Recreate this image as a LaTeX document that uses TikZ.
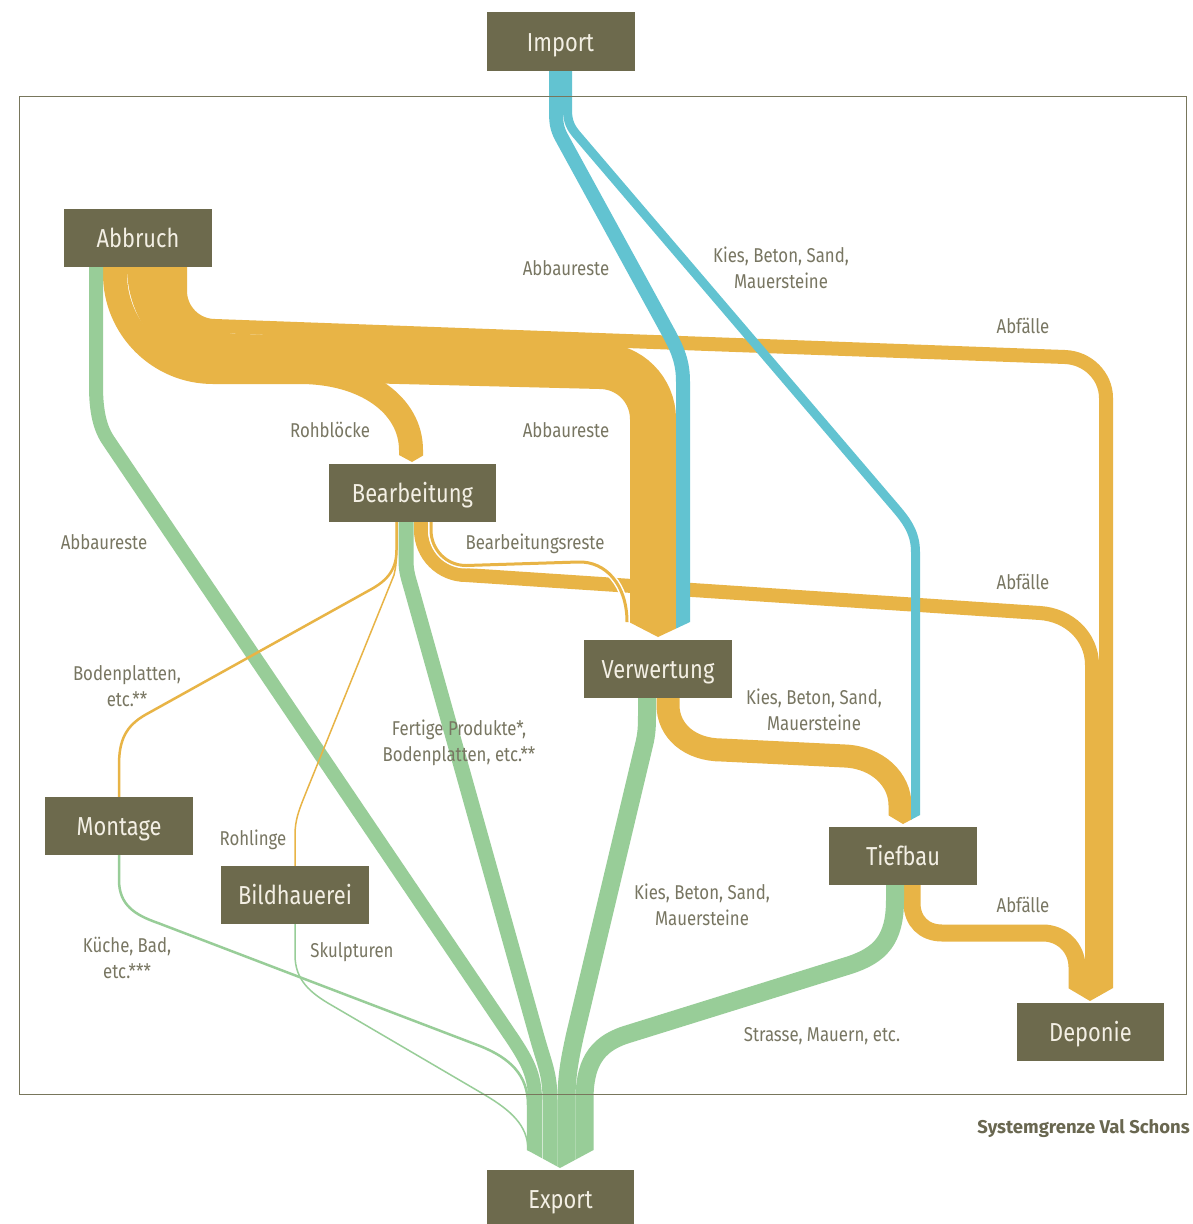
\documentclass[tikz,border=0pt]{standalone}
\usepackage{fontspec}
\newfontfamily\firaC[FakeStretch=0.84]{Fira Sans}
\newfontfamily\firaW{Fira Sans}
\definecolor{flowO}{RGB}{232,180,70}
\definecolor{flowB}{RGB}{98,195,209}
\definecolor{flowG}{RGB}{152,205,152}
\definecolor{boxC}{RGB}{109,106,77}
\definecolor{boxT}{RGB}{243,239,228}
\definecolor{lblC}{RGB}{120,118,98}
\definecolor{sysC}{RGB}{105,103,80}
\definecolor{bndC}{RGB}{120,118,92}
\begin{document}
\begin{tikzpicture}[x=1pt,y=-1pt,
  stage/.style={fill=boxC, text=boxT, minimum width=148pt, minimum height=58pt, inner sep=0pt,
    font=\firaC\fontsize{26}{30}\selectfont, text height=18pt, text depth=0pt},
  lbl/.style={text=lblC, font=\firaC\fontsize{20}{26}\selectfont, align=center, inner sep=0pt},
  sys/.style={text=sysC, font=\firaW\bfseries\fontsize{18.5}{24}\selectfont, inner sep=0pt, anchor=base east},
  oflow/.style={draw=flowO, line width=#1pt},
  bflow/.style={draw=flowB, line width=#1pt},
  gflow/.style={draw=flowG, line width=#1pt},
  casing/.style={draw=white, line width=#1pt},
  bound/.style={draw=bndC, line width=1pt}]
\useasboundingbox (0,0) rectangle (1192,1224);
\fill[white] (0,0) rectangle (1192,1224);

% ---- stage boxes (placed first so anchors exist; redrawn on top at the end)
\path
  (560.5,41)  node[stage] (Import) {}
  (138,238)   node[stage] (Abbruch) {}
  (412.5,493) node[stage, minimum width=167pt] (Bearbeitung) {}
  (658,669)   node[stage] (Verwertung) {}
  (119,826)   node[stage] (Montage) {}
  (295,895)   node[stage] (Bildhauerei) {}
  (903,856)   node[stage] (Tiefbau) {}
  (1090.5,1032) node[stage, minimum width=147pt] (Deponie) {}
  (560.5,1199) node[stage, minimum width=147pt] (Export) {};

% ---- orange flows ending at Deponie
\begin{scope}
\clip (0,0) -- (1192,0) -- (1192,988) -- (1113,988) -- (1090,1001) -- (1068,988) -- (0,988) -- cycle;
\draw[oflow=14] ([xshift=8.5pt,yshift=3pt]Bearbeitung.south) -- (421,530)
  .. controls (421,554.9) and (441.1,575) .. (466,575) -- (1040,613)
  .. controls (1068.7,614.9) and (1092,636.3) .. (1092,665) -- ([xshift=1.5pt]Deponie.north);
\draw[oflow=14] ([xshift=42pt,yshift=3pt]Abbruch.south) -- (180,291)
  .. controls (180,310.3) and (195.7,326) .. (215,326) -- (1065,357)
  .. controls (1087.6,357.8) and (1106,376) .. (1106,398) -- ([xshift=15.5pt]Deponie.north);
\draw[oflow=17] ([xshift=9pt,yshift=3pt]Tiefbau.south) -- (912,903)
  .. controls (912,921) and (924,933) .. (942,933) -- (1043,933)
  .. controls (1062,933) and (1077,948) .. (1077,967) -- ([xshift=-13.5pt]Deponie.north);
\end{scope}

% ---- orange flows ending at Verwertung
\begin{scope}
\clip (0,0) -- (1192,0) -- (1192,622) -- (690,622) -- (658,637) -- (629,622) -- (0,622) -- cycle;
\draw[casing=6] ([xshift=18.5pt,yshift=3pt]Bearbeitung.south) -- (431,530)
  .. controls (431,549.6) and (446.4,565.5) .. (466,565.5) -- (578,562)
  .. controls (606,561) and (627,585) .. (627,622) -- ([xshift=-31pt]Verwertung.north);
\draw[oflow=3] ([xshift=18.5pt,yshift=3pt]Bearbeitung.south) -- (431,530)
  .. controls (431,549.6) and (446.4,565.5) .. (466,565.5) -- (578,562)
  .. controls (606,561) and (627,585) .. (627,622) -- ([xshift=-31pt]Verwertung.north);
\draw[oflow=46] ([xshift=12pt,yshift=3pt]Abbruch.south) -- (150,267)
  .. controls (150,316.7) and (190.3,357) .. (240,357) -- (600,366)
  .. controls (629.3,366) and (653,389.7) .. (653,419) -- ([xshift=-5pt]Verwertung.north);
\draw[bflow=14] ([xshift=-4.5pt,yshift=3pt]Import.south) -- (556,112)
  .. controls (556,126) and (558,131) .. (563,140) -- (667,330)
  .. controls (678,350) and (683,362) .. (683,382) -- ([xshift=25pt]Verwertung.north);
\end{scope}

% ---- Rohbloecke to Bearbeitung
\begin{scope}
\clip (0,0) -- (1192,0) -- (1192,455) -- (424,455) -- (412,462) -- (399,455) -- (0,455) -- cycle;
\draw[oflow=24] ([xshift=-23pt,yshift=3pt]Abbruch.south) -- (115,274)
  .. controls (115,328.1) and (158.9,372) .. (213,372) -- (300,372)
  .. controls (365,372) and (411,405) .. (411,450) -- ([xshift=-1.5pt]Bearbeitung.north);
\end{scope}

% ---- flows ending at Tiefbau
\begin{scope}
\clip (0,0) -- (1192,0) -- (1192,815) -- (920,815) -- (903,824) -- (888,815) -- (0,815) -- cycle;
\draw[oflow=23] ([xshift=10pt,yshift=3pt]Verwertung.south) -- (668,705)
  .. controls (668,731) and (690,750) .. (722,750) -- (845,756)
  .. controls (878,757.5) and (900,780) .. (900,805) -- ([xshift=-3pt]Tiefbau.north);
\draw[bflow=9] ([xshift=7pt,yshift=3pt]Import.south) -- (567.5,110)
  .. controls (567.5,122) and (571,128) .. (577,135) -- (893,505)
  .. controls (906,520) and (915.5,532) .. (915.5,552) -- ([xshift=12.5pt]Tiefbau.north);
\end{scope}

% ---- green flows ending at Export
\begin{scope}
\clip (0,0) -- (1192,0) -- (1192,1150) -- (593.5,1150) -- (560,1168) -- (527,1150) -- (0,1150) -- cycle;
\draw[gflow=14] ([xshift=-42pt,yshift=3pt]Abbruch.south) -- (96,385)
  .. controls (96,405) and (98,425) .. (108,440) -- (510,1035)
  .. controls (527,1060) and (535,1075) .. (535,1100) -- ([xshift=-25.5pt]Export.north);
\draw[gflow=15] ([xshift=-6.5pt,yshift=3pt]Bearbeitung.south) -- (406,560)
  .. controls (406,572) and (408.4,578) .. (411.8,590) -- (537.8,1040)
  .. controls (545,1065) and (550,1075) .. (550,1100) -- ([xshift=-10.5pt]Export.north);
\draw[gflow=18] ([xshift=-11pt,yshift=3pt]Verwertung.south) -- (647,715)
  .. controls (647,728) and (646.5,735) .. (644,745) -- (575,1035)
  .. controls (570,1058) and (566.5,1075) .. (566.5,1100) -- ([xshift=6pt]Export.north);
\draw[gflow=18] ([xshift=-8pt,yshift=3pt]Tiefbau.south) -- (895,900)
  .. controls (895,940) and (880,955) .. (850,965) -- (625,1035)
  .. controls (595,1045) and (584.5,1065) .. (584.5,1100) -- ([xshift=24pt]Export.north);
\draw[gflow=2.5] ([yshift=3pt]Montage.south) -- (119,880)
  .. controls (119,905) and (135,915) .. (158,923) -- (480,1046)
  .. controls (510,1058) and (528,1075) .. (528,1105) -- ([xshift=-32.5pt]Export.north);
\draw[gflow=1.5] ([yshift=3pt]Bildhauerei.south) -- (295,955)
  .. controls (295,980) and (310,993) .. (333,1006) -- (485,1095)
  .. controls (510,1110) and (528,1125) .. (528,1150) -- ([xshift=-32.5pt]Export.north);
\end{scope}

% ---- thin orange flows from Bearbeitung
\draw[oflow=2.5] ([xshift=-16pt,yshift=3pt]Bearbeitung.south) -- (396.5,550)
  .. controls (396.5,572) and (385,582) .. (368,591) -- (145,715)
  .. controls (126,726) and (119,740) .. (119,765) -- ([yshift=-3pt]Montage.north);
\draw[oflow=1.5] ([xshift=-16pt,yshift=3pt]Bearbeitung.south) -- (396.5,555)
  .. controls (396.5,563) and (395.5,568) .. (394,575) -- (305,795)
  .. controls (299,810) and (295,820) .. (295,835) -- ([yshift=-3pt]Bildhauerei.north);

% ---- system boundary
\draw[bound] (19.5,96.5) rectangle (1186.5,1094.5);

% ---- stage boxes with labels
\path
  (560.5,42)  node[stage] {Import}
  (138,238)   node[stage] {Abbruch}
  (412.5,493) node[stage, minimum width=167pt] {Bearbeitung}
  (658,669)   node[stage] {Verwertung}
  (119,826)   node[stage] {Montage}
  (295,895)   node[stage] {Bildhauerei}
  (903,856)   node[stage] {Tiefbau}
  (1090.5,1032) node[stage, minimum width=147pt] {Deponie}
  (560.5,1199) node[stage, minimum width=147pt] {Export};

% ---- flow labels
\node[lbl, anchor=base] (l1) at (566,275) {Abbaureste};
\node[lbl] (l2) at (781,268) {Kies, Beton, Sand,\\Mauersteine};
\node[lbl, anchor=base] (l3) at (1023,333) {Abfälle};
\node[lbl, anchor=base] (l4) at (330,437) {Rohblöcke};
\node[lbl, anchor=base] (l5) at (566,437) {Abbaureste};
\node[lbl, anchor=base] (l6) at (104,549) {Abbaureste};
\node[lbl, anchor=base] (l7) at (535,549) {Bearbeitungsreste};
\node[lbl, anchor=base] (l8) at (1023,589) {Abfälle};
\node[lbl] (l9) at (127,686) {Bodenplatten,\\etc.**};
\node[lbl] (l10) at (459,743) {Fertige Produkte*,\\Bodenplatten, etc.**};
\node[lbl] (l11) at (814,710) {Kies, Beton, Sand,\\Mauersteine};
\node[lbl, anchor=base] (l12) at (253,845) {Rohlinge};
\node[lbl] (l13) at (702,905) {Kies, Beton, Sand,\\Mauersteine};
\node[lbl, anchor=base] (l14) at (1023,912) {Abfälle};
\node[lbl] (l15) at (127,958) {Küche, Bad,\\etc.***};
\node[lbl, anchor=base] (l16) at (352,957) {Skulpturen};
\node[lbl, anchor=base] (l17) at (822,1041) {Strasse, Mauern, etc.};
\node[sys] (sg) at (1190,1133) {Systemgrenze Val Schons};
\end{tikzpicture}
\end{document}
